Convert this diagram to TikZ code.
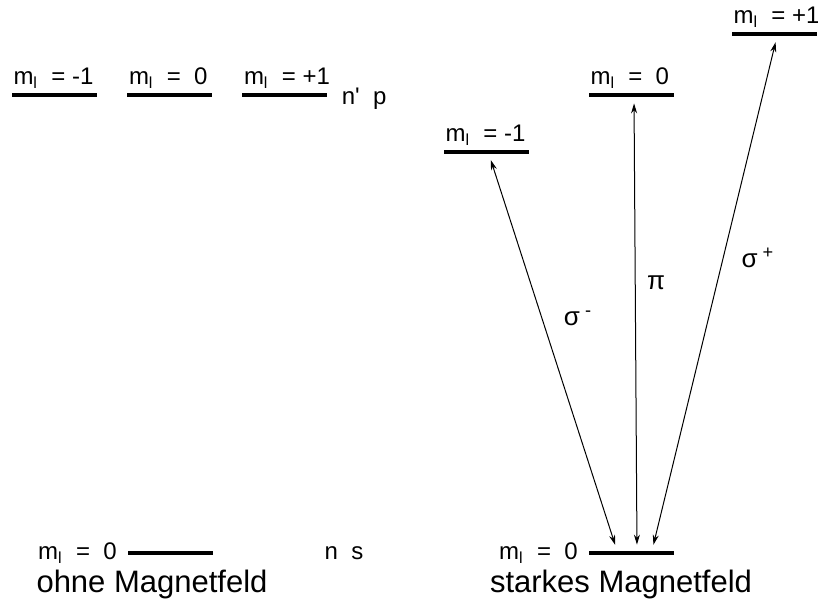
\documentclass[tikz,border=0pt]{standalone}
\usepackage{fontspec}
\setmainfont{Liberation Sans}
\usetikzlibrary{arrows.meta,positioning,calc}

\begin{document}
\begin{tikzpicture}[
  x=0.5pt, y=-0.5pt,
  node distance=1pt and 4pt,
  level/.style={fill=black, minimum width=42.5pt, minimum height=2pt, inner sep=0pt},
  mlab/.style={font=\fontsize{12}{14}\selectfont, inner sep=1pt},
  biglab/.style={font=\fontsize{15.5}{18}\selectfont, inner sep=1pt},
  translab/.style={font=\fontsize{13}{15}\selectfont, inner sep=1pt},
  trans/.style={{Stealth[length=5pt,width=3pt]}-{Stealth[length=5pt,width=3pt]},
    line width=0.5pt, shorten <=3pt, shorten >=3pt},
]
\useasboundingbox (0,0) rectangle (818,610);

% ohne Magnetfeld
\node[level] (pm1) at (54,95) {};
\node[level] (p0) at (169.5,95) {};
\node[level] (pp1) at (284.5,95) {};
\node[mlab, above=of pm1.north west, anchor=south west] {m\textsubscript{l}~~= -1};
\node[mlab, above=of p0.north west, anchor=south west] {m\textsubscript{l}~~=~~0};
\node[mlab, above=of pp1.north west, anchor=south west] {m\textsubscript{l}~~= +1};
\node[mlab, right=6pt of pp1, yshift=-2pt] (np) {n\textquotesingle~~p};

\node[level] (s0) at (170,553) {};
\node[mlab, left=of s0] {m\textsubscript{l}~~=~~0};
\node[mlab] (ns) at (344,553) {n~~s};
\node[biglab] (ohne) at (152,584) {ohne Magnetfeld};

% starkes Magnetfeld
\node[level] (lm1) at (486,152) {};
\node[level] (l0) at (631,95) {};
\node[level] (lp1) at (774,34) {};
\node[mlab, above=of lm1.north west, anchor=south west] {m\textsubscript{l}~~= -1};
\node[mlab, above=of l0.north west, anchor=south west] {m\textsubscript{l}~~=~~0};
\node[mlab, above=of lp1.north west, anchor=south west] {m\textsubscript{l}~~= +1};

\node[level] (g) at (631,553) {};
\node[mlab, left=of g] {m\textsubscript{l}~~=~~0};
\node[biglab] (stark) at (621,584) {starkes Magnetfeld};

% Uebergaenge
\draw[trans] ($(lm1.south)+(3,0)$) -- ($(g.north)+(-14,0)$);
\draw[trans] ($(l0.south)+(3,0)$) -- ($(g.north)+(6,0)$);
\draw[trans] ($(lp1.south)+(3,0)$) -- ($(g.north)+(21,0)$);
\node[translab] (sm) at (578,318) {σ\textsuperscript{~-}};
\node[translab] (pi) at (656,283) {π};
\node[translab] (sp) at (758,258) {σ\textsuperscript{~+}};

\end{tikzpicture}
\end{document}
